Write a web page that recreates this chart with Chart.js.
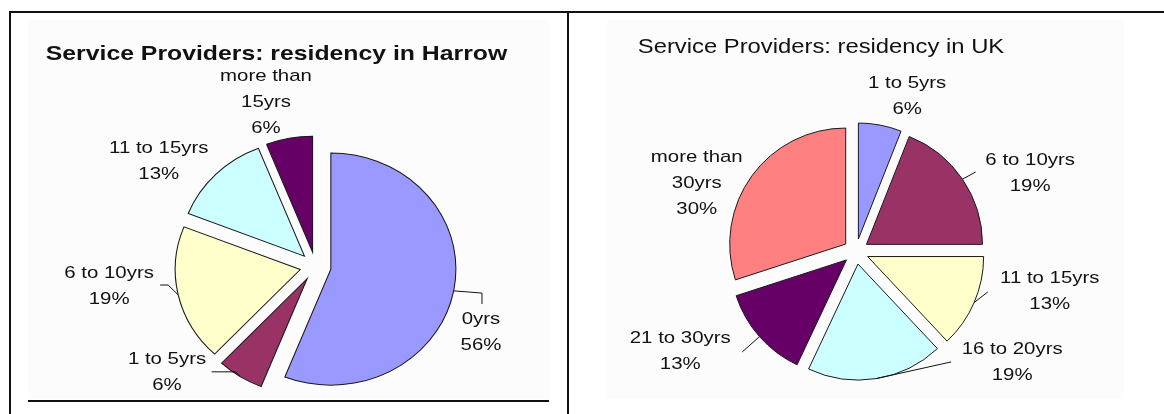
<!DOCTYPE html>
<html>
<head>
<meta charset="utf-8">
<script src="https://cdn.jsdelivr.net/npm/chart.js@4.4.1/dist/chart.umd.min.js"></script>
<style>
  body { margin: 0; background: #fff; }
  #page { position: relative; width: 1164px; height: 414px; overflow: hidden; }
  .rule { position: absolute; background: #111; }
  .panel { position: absolute; background: #fcfcfc; }
  canvas { position: absolute; left: 0; top: 0; }
</style>
</head>
<body>
<div id="page">
  <div class="panel" style="left:28px;top:20px;width:521px;height:379px"></div>
  <div class="panel" style="left:607px;top:20px;width:517px;height:379px"></div>
  <div class="rule" style="left:9px;top:11px;width:1155px;height:2px"></div>
  <div class="rule" style="left:9px;top:11px;width:2px;height:403px"></div>
  <div class="rule" style="left:567px;top:11px;width:2px;height:403px"></div>
  <div class="rule" style="left:28px;top:400px;width:521px;height:2px"></div>
  <canvas id="harrow" width="1164" height="414"></canvas>
  <canvas id="uk" width="1164" height="414"></canvas>
</div>
<script>
// Residency in Harrow (percent of service providers)
const harrowLabels = ['0yrs', '1 to 5yrs', '6 to 10yrs', '11 to 15yrs', 'more than 15yrs'];
const harrowValues = [56, 6, 19, 13, 6];
const harrowColors = ['#9999FF', '#993366', '#FFFFCC', '#CCFFFF', '#660066'];

// Residency in UK
const ukLabels = ['1 to 5yrs', '6 to 10yrs', '11 to 15yrs', '16 to 20yrs', '21 to 30yrs', 'more than 30yrs'];
const ukValues = [6, 19, 13, 19, 13, 30];
const ukColors = ['#9999FF', '#993366', '#FFFFCC', '#CCFFFF', '#660066', '#FF8080'];

const labelFont = '17px "Liberation Sans", Arial, sans-serif';
const textStretch = 1.2;
const lineGap = 26;

function wrapLabel(name) {
    return name.startsWith('more than ') ? ['more than', name.slice(10)] : [name];
}

function drawStretched(ctx, text, x, y, k) {
    ctx.save();
    ctx.translate(x, y);
    ctx.scale(k, 1);
    ctx.fillText(text, 0, 0);
    ctx.restore();
}

// explodes the slices, squeezes the pie and draws title, labels and leader lines
const pieDecor = {
    id: 'pieDecor',
    afterDatasetUpdate(chart, args) {
        const o = chart.options.plugins.pieDecor;
        args.meta.data.forEach(arc => {
            const mid = (arc.startAngle + arc.endAngle) / 2;
            arc.x += o.explode * Math.cos(mid);
            arc.y += o.explode * Math.sin(mid);
        });
    },
    beforeDatasetsDraw(chart, args, o) {
        const { ctx, chartArea } = chart;
        const cx = (chartArea.left + chartArea.right) / 2;
        ctx.save();
        ctx.translate(cx, 0);
        ctx.scale(o.stretchX, 1);
        ctx.translate(-cx, 0);
    },
    afterDatasetsDraw(chart, args, o) {
        const { ctx, chartArea } = chart;
        ctx.restore();
        const cx = (chartArea.left + chartArea.right) / 2;
        const cy = (chartArea.top + chartArea.bottom) / 2;

        ctx.save();
        ctx.fillStyle = '#111';
        ctx.strokeStyle = '#111';
        ctx.lineWidth = 1;
        ctx.textAlign = 'center';
        ctx.textBaseline = 'alphabetic';
        ctx.font = o.titleFont;
        drawStretched(ctx, o.title, o.titleX, o.titleY, o.titleStretch);

        ctx.font = labelFont;
        ctx.textBaseline = 'middle';
        const meta = chart.getDatasetMeta(0);
        const values = chart.data.datasets[0].data;
        meta.data.forEach((arc, i) => {
            const mid = (arc.startAngle + arc.endAngle) / 2;
            const r = arc.outerRadius;
            const lx = cx + o.stretchX * (r + 45) * Math.cos(mid) + o.nudge[i][0];
            const ly = cy + (r + 45) * Math.sin(mid) + o.nudge[i][1];
            const lines = wrapLabel(chart.data.labels[i]).concat(values[i] + '%');
            lines.forEach((s, j) => {
                drawStretched(ctx, s, lx, ly + (j - (lines.length - 1) / 2) * lineGap, textStretch);
            });
            const lead = o.leaders[i];
            if (lead) {
                const ex = cx + o.stretchX * (arc.x - cx + r * Math.cos(mid));
                const ey = arc.y + r * Math.sin(mid);
                ctx.beginPath();
                ctx.moveTo(ex, ey);
                lead.forEach(p => ctx.lineTo(lx + p[0], ly + p[1]));
                ctx.stroke();
            }
        });
        ctx.restore();
    }
};

function makePie(id, labels, values, colors, decor) {
    const canvas = document.getElementById(id);
    const W = canvas.width, H = canvas.height;
    const padding = {
        left: Math.max(0, 2 * decor.cx - W),
        right: Math.max(0, W - 2 * decor.cx),
        top: Math.max(0, 2 * decor.cy - H),
        bottom: Math.max(0, H - 2 * decor.cy)
    };
    return new Chart(canvas, {
        type: 'pie',
        data: {
            labels: labels,
            datasets: [{
                data: values,
                backgroundColor: colors,
                borderColor: '#1a1a1a',
                borderWidth: 1,
                borderJoinStyle: 'miter'
            }]
        },
        options: {
            responsive: false,
            devicePixelRatio: 1,
            animation: false,
            events: [],
            radius: 116,
            layout: { padding: padding },
            plugins: {
                legend: { display: false },
                tooltip: { enabled: false },
                pieDecor: decor
            }
        },
        plugins: [pieDecor]
    });
}

makePie('harrow', harrowLabels, harrowValues, harrowColors, {
    cx: 315.5, cy: 266.4, stretchX: 1.078, explode: 14.5,
    title: 'Service Providers: residency in Harrow',
    titleFont: 'bold 21px "Liberation Sans", Arial, sans-serif',
    titleX: 276.5, titleY: 60, titleStretch: 1.18,
    nudge: [[-5, 36], [-55.5, -30], [-37, -15], [-34, 9], [-17, -5.6]],
    leaders: [
        [[1, -39.5], [1, -28.5]],
        [[68.7, -0.5], [44.6, -0.5]],
        [[59, -1.5], [51, -1.5]],
        null,
        null
    ]
});

makePie('uk', ukLabels, ukValues, ukColors, {
    cx: 856, cy: 251.5, stretchX: 1, explode: 12.7,
    title: 'Service Providers: residency in UK',
    titleFont: '20px "Liberation Sans", Arial, sans-serif',
    titleX: 821, titleY: 53, titleStretch: 1.19,
    nudge: [[21, 2.6], [41, 12.5], [46, -24], [131, -48.6], [-55, -7], [-29, 26.7]],
    leaders: [
        null,
        [[-54.5, -1.5]],
        [[-62, 0.5]],
        [[-61, 0]],
        [[62, 1]],
        null
    ]
});
</script>
</body>
</html>
